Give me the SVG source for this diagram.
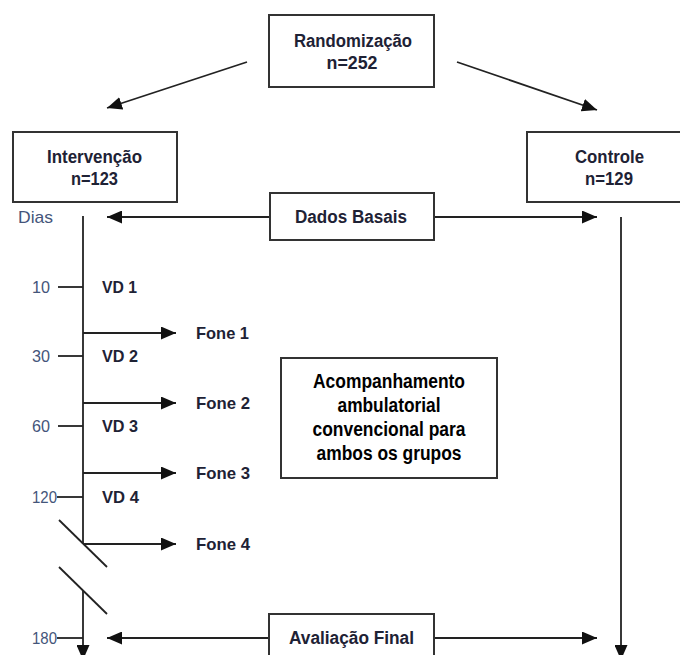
<svg xmlns="http://www.w3.org/2000/svg" width="680" height="655" viewBox="0 0 680 655">
<defs>
<marker id="ah" markerUnits="userSpaceOnUse" markerWidth="15" markerHeight="13" viewBox="0 0 15 13" refX="15" refY="6.5" orient="auto">
<path d="M0,0 L15,6.5 L0,13 z" fill="#111"/>
</marker>
<style>
.box{fill:#fff;stroke:#333;stroke-width:2}
.ln{stroke:#222;stroke-width:1.8;fill:none}
.arr{stroke:#222;stroke-width:1.8;fill:none;marker-end:url(#ah)}
.t{font-family:"Liberation Sans",Arial,sans-serif;font-weight:bold;fill:#1e2235;text-anchor:middle;font-size:18px}
.tl{font-family:"Liberation Sans",Arial,sans-serif;font-weight:bold;fill:#1e2235;font-size:17px}
.d{font-family:"Liberation Sans",Arial,sans-serif;fill:#44557a;font-size:17px}
.k{font-family:"Liberation Sans",Arial,sans-serif;font-weight:bold;fill:#000;text-anchor:middle;font-size:19.5px}
</style>
</defs>
<rect width="680" height="655" fill="#fff"/>

<g id="connectors">
<line class="arr" x1="247" y1="62" x2="107" y2="108"/>
<line class="arr" x1="457" y1="62" x2="597" y2="110"/>
<line class="arr" x1="270" y1="217" x2="107" y2="217"/>
<line class="arr" x1="434" y1="217" x2="597" y2="217"/>
<line class="ln" x1="83" y1="216" x2="83" y2="544"/>
<line class="arr" x1="83" y1="590" x2="83" y2="660"/>
<line class="arr" x1="621" y1="217" x2="621" y2="660"/>
<line class="ln" x1="58" y1="287" x2="83" y2="287"/>
<line class="ln" x1="58" y1="356" x2="83" y2="356"/>
<line class="ln" x1="58" y1="426" x2="83" y2="426"/>
<line class="ln" x1="57" y1="497" x2="83" y2="497"/>
<line class="ln" x1="57" y1="638" x2="83" y2="638"/>
<line class="arr" x1="83" y1="333" x2="176" y2="333"/>
<line class="arr" x1="83" y1="403" x2="176" y2="403"/>
<line class="arr" x1="83" y1="473" x2="176" y2="473"/>
<line class="arr" x1="83" y1="544" x2="176" y2="544"/>
<line class="ln" x1="59" y1="520" x2="107" y2="567"/>
<line class="ln" x1="59" y1="567" x2="107" y2="614"/>
<line class="arr" x1="269" y1="638" x2="107" y2="638"/>
<line class="arr" x1="434" y1="638" x2="597" y2="638"/>
</g>

<g id="randomizacao">
<rect class="box" x="269" y="15" width="165" height="72"/>
<text class="t" x="353" y="47" textLength="118" lengthAdjust="spacingAndGlyphs">Randomização</text>
<text class="t" x="352" y="69" textLength="51" lengthAdjust="spacingAndGlyphs">n=252</text>
</g>

<g id="intervencao">
<rect class="box" x="13" y="132" width="164" height="70"/>
<text class="t" x="94.5" y="163" textLength="95" lengthAdjust="spacingAndGlyphs">Intervenção</text>
<text class="t" x="94.5" y="185" textLength="47" lengthAdjust="spacingAndGlyphs">n=123</text>
</g>

<g id="controle">
<rect class="box" x="527" y="132" width="166" height="70"/>
<text class="t" x="609.5" y="163" textLength="69" lengthAdjust="spacingAndGlyphs">Controle</text>
<text class="t" x="609" y="185" textLength="48" lengthAdjust="spacingAndGlyphs">n=129</text>
</g>

<g id="dados-basais">
<rect class="box" x="270" y="193" width="164" height="47"/>
<text class="t" x="351" y="223" textLength="112" lengthAdjust="spacingAndGlyphs">Dados Basais</text>
</g>

<g id="acompanhamento">
<rect class="box" x="281" y="358" width="216" height="120"/>
<text class="k" x="389" y="388" textLength="152" lengthAdjust="spacingAndGlyphs">Acompanhamento</text>
<text class="k" x="389" y="412" textLength="103" lengthAdjust="spacingAndGlyphs">ambulatorial</text>
<text class="k" x="389" y="436" textLength="153" lengthAdjust="spacingAndGlyphs">convencional para</text>
<text class="k" x="389" y="460" textLength="145" lengthAdjust="spacingAndGlyphs">ambos os grupos</text>
</g>

<g id="avaliacao-final">
<rect class="box" x="269" y="614" width="165" height="60"/>
<text class="t" x="351.5" y="644" textLength="125" lengthAdjust="spacingAndGlyphs">Avaliação Final</text>
</g>

<g id="timeline-labels">
<text class="d" x="18" y="223" textLength="35" lengthAdjust="spacingAndGlyphs">Dias</text>
<text class="d" x="32" y="293" textLength="18" lengthAdjust="spacingAndGlyphs">10</text>
<text class="d" x="32" y="362" textLength="18" lengthAdjust="spacingAndGlyphs">30</text>
<text class="d" x="32" y="432" textLength="18" lengthAdjust="spacingAndGlyphs">60</text>
<text class="d" x="32" y="503" textLength="25" lengthAdjust="spacingAndGlyphs">120</text>
<text class="d" x="32" y="644" textLength="25" lengthAdjust="spacingAndGlyphs">180</text>
<text class="tl" x="102" y="293" textLength="35" lengthAdjust="spacingAndGlyphs">VD 1</text>
<text class="tl" x="102" y="362" textLength="36" lengthAdjust="spacingAndGlyphs">VD 2</text>
<text class="tl" x="102" y="432" textLength="36" lengthAdjust="spacingAndGlyphs">VD 3</text>
<text class="tl" x="102" y="503" textLength="37" lengthAdjust="spacingAndGlyphs">VD 4</text>
<text class="tl" x="196" y="339" textLength="53" lengthAdjust="spacingAndGlyphs">Fone 1</text>
<text class="tl" x="196" y="409" textLength="54" lengthAdjust="spacingAndGlyphs">Fone 2</text>
<text class="tl" x="196" y="479" textLength="54" lengthAdjust="spacingAndGlyphs">Fone 3</text>
<text class="tl" x="196" y="550" textLength="54" lengthAdjust="spacingAndGlyphs">Fone 4</text>
</g>
</svg>
